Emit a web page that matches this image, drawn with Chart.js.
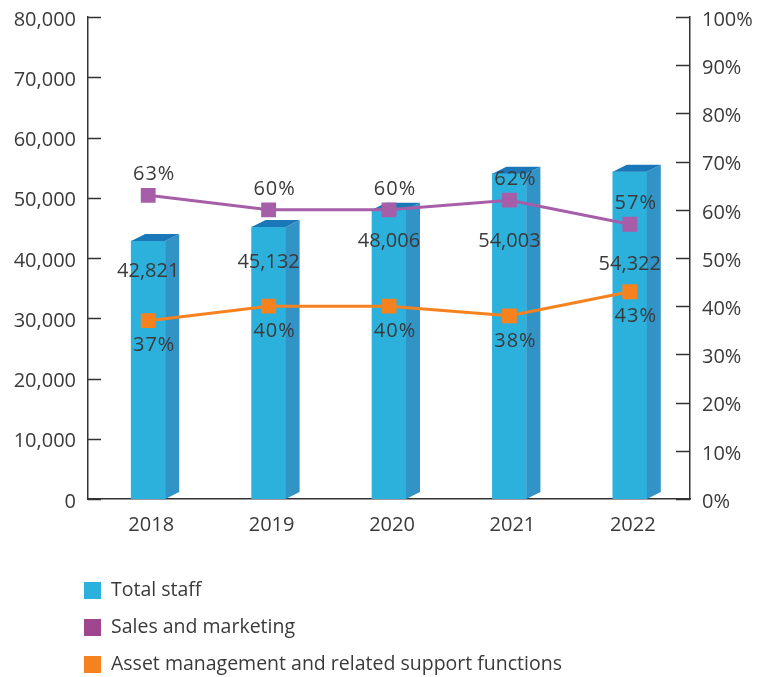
<!DOCTYPE html>
<html>
<head>
<meta charset="utf-8">
<script src="https://cdn.jsdelivr.net/npm/chart.js@4.4.1/dist/chart.umd.min.js"></script>
<style>
  html, body { margin: 0; padding: 0; background: #fff; }
</style>
</head>
<body>
<canvas id="chart" width="761" height="677"></canvas>
<script>
const years = ["2018", "2019", "2020", "2021", "2022"];
const totalStaff = [42821, 45132, 48006, 54003, 54322];
const salesPct = [63, 60, 60, 62, 57];
const assetPct = [37, 40, 40, 38, 43];

const FONT = '"Open Sans", sans-serif';
const TEXT = "#3a3a3a";
const AXIS = "#333333";
const DX = 14, DY = 7; // depth of the 3d bars
const barLabelDrop = [30, 35, 32, 68, 93]; // px below bar top, avoids markers

// side + top faces of the bars, drawn right after the bar dataset
const bar3d = {
  id: "bar3d",
  afterDatasetDraw(chart, args) {
    if (args.index !== 0) return;
    const ctx = chart.ctx;
    const base = chart.scales.y.getPixelForValue(0);
    args.meta.data.forEach(bar => {
      const x0 = bar.x - bar.width / 2, x1 = bar.x + bar.width / 2, y = bar.y;
      ctx.save();
      ctx.fillStyle = "#3193c6";
      ctx.beginPath();
      ctx.moveTo(x1, y);
      ctx.lineTo(x1 + DX, y - DY);
      ctx.lineTo(x1 + DX, base - DY);
      ctx.lineTo(x1, base);
      ctx.closePath();
      ctx.fill();
      ctx.fillStyle = "#1b78b8";
      ctx.beginPath();
      ctx.moveTo(x0, y);
      ctx.lineTo(x1, y);
      ctx.lineTo(x1 + DX, y - DY);
      ctx.lineTo(x0 + DX, y - DY);
      ctx.closePath();
      ctx.fill();
      ctx.restore();
    });
  }
};

const labels = {
  id: "labels",
  afterDatasetsDraw(chart) {
    const ctx = chart.ctx;
    ctx.save();
    ctx.font = "20px " + FONT;
    ctx.fillStyle = TEXT;
    ctx.textAlign = "center";
    ctx.textBaseline = "middle";
    chart.getDatasetMeta(0).data.forEach((bar, i) => {
      ctx.fillText(totalStaff[i].toLocaleString("en-US"), bar.x, bar.y + barLabelDrop[i]);
    });
    ctx.letterSpacing = "1px";
    chart.getDatasetMeta(1).data.forEach((pt, i) => {
      ctx.fillText(salesPct[i] + "%", pt.x + 6, pt.y - 21);
    });
    chart.getDatasetMeta(2).data.forEach((pt, i) => {
      ctx.fillText(assetPct[i] + "%", pt.x + 6, pt.y + 25);
    });
    ctx.restore();
  },
  afterDraw(chart) {
    const ctx = chart.ctx;
    const area = chart.chartArea;
    ctx.save();
    // inward tick marks
    ctx.strokeStyle = AXIS;
    ctx.lineWidth = 1.5;
    chart.scales.y.ticks.forEach(t => {
      const py = Math.round(chart.scales.y.getPixelForValue(t.value)) + 0.5;
      ctx.beginPath(); ctx.moveTo(area.left, py); ctx.lineTo(area.left + 13, py); ctx.stroke();
    });
    chart.scales.y1.ticks.forEach(t => {
      const py = Math.round(chart.scales.y1.getPixelForValue(t.value)) + 0.5;
      ctx.beginPath(); ctx.moveTo(area.right - 14, py); ctx.lineTo(area.right, py); ctx.stroke();
    });
    // legend, one row per dataset
    ctx.font = "19.5px " + FONT;
    ctx.textAlign = "left";
    ctx.textBaseline = "middle";
    chart.data.datasets.forEach((ds, i) => {
      const cy = 590 + i * 37;
      ctx.fillStyle = ds.legendColor;
      ctx.fillRect(84, cy - 8, 17, 17);
      ctx.fillStyle = TEXT;
      ctx.fillText(ds.label, 111, cy);
    });
    ctx.restore();
  }
};

function noPad(scale) {
  scale.paddingTop = 0;
  scale.paddingBottom = 0;
}

new Chart(document.getElementById("chart"), {
  type: "bar",
  data: {
    labels: years,
    datasets: [
      {
        label: "Total staff",
        data: totalStaff,
        backgroundColor: "#2cb0dc",
        legendColor: "#2cb0dc",
        barThickness: 34,
        yAxisID: "y",
        order: 3
      },
      {
        type: "line",
        label: "Sales and marketing",
        data: salesPct,
        borderColor: "#a65ea8",
        backgroundColor: "#a65ea8",
        legendColor: "#a0468f",
        borderWidth: 3,
        pointStyle: "rect",
        pointRadius: 10.5,
        pointBorderWidth: 0,
        tension: 0,
        yAxisID: "y1",
        order: 2
      },
      {
        type: "line",
        label: "Asset management and related support functions",
        data: assetPct,
        borderColor: "#f5821f",
        backgroundColor: "#f5821f",
        legendColor: "#f5821f",
        borderWidth: 3,
        pointStyle: "rect",
        pointRadius: 10.5,
        pointBorderWidth: 0,
        tension: 0,
        yAxisID: "y1",
        order: 1
      }
    ]
  },
  options: {
    responsive: false,
    devicePixelRatio: 1,
    animation: false,
    layout: { padding: { top: 17, bottom: 138, left: 0, right: 0 } },
    plugins: { legend: { display: false }, tooltip: { enabled: false } },
    scales: {
      x: {
        grid: { display: false },
        border: { color: AXIS, width: 1.5 },
        ticks: { color: TEXT, font: { family: FONT, size: 20 }, padding: 6, labelOffset: 3 },
        afterFit(scale) { scale.height = 40; scale.paddingLeft = 0; scale.paddingRight = 0; }
      },
      y: {
        position: "left",
        min: 0, max: 80000,
        grid: { display: false, drawTicks: false },
        border: { color: AXIS, width: 1.5 },
        ticks: {
          stepSize: 10000,
          color: TEXT,
          font: { family: FONT, size: 20 },
          padding: 12,
          labelOffset: 3,
          callback: v => v.toLocaleString("en-US")
        },
        afterFit(scale) { scale.width = 88; noPad(scale); }
      },
      y1: {
        position: "right",
        min: 0, max: 100,
        grid: { display: false, drawTicks: false },
        border: { color: AXIS, width: 1.5 },
        ticks: {
          stepSize: 10,
          color: TEXT,
          font: { family: FONT, size: 20 },
          padding: 12,
          labelOffset: 3,
          callback: v => v + "%"
        },
        afterFit(scale) { scale.width = 71; noPad(scale); }
      }
    }
  },
  plugins: [bar3d, labels]
});
</script>
</body>
</html>
